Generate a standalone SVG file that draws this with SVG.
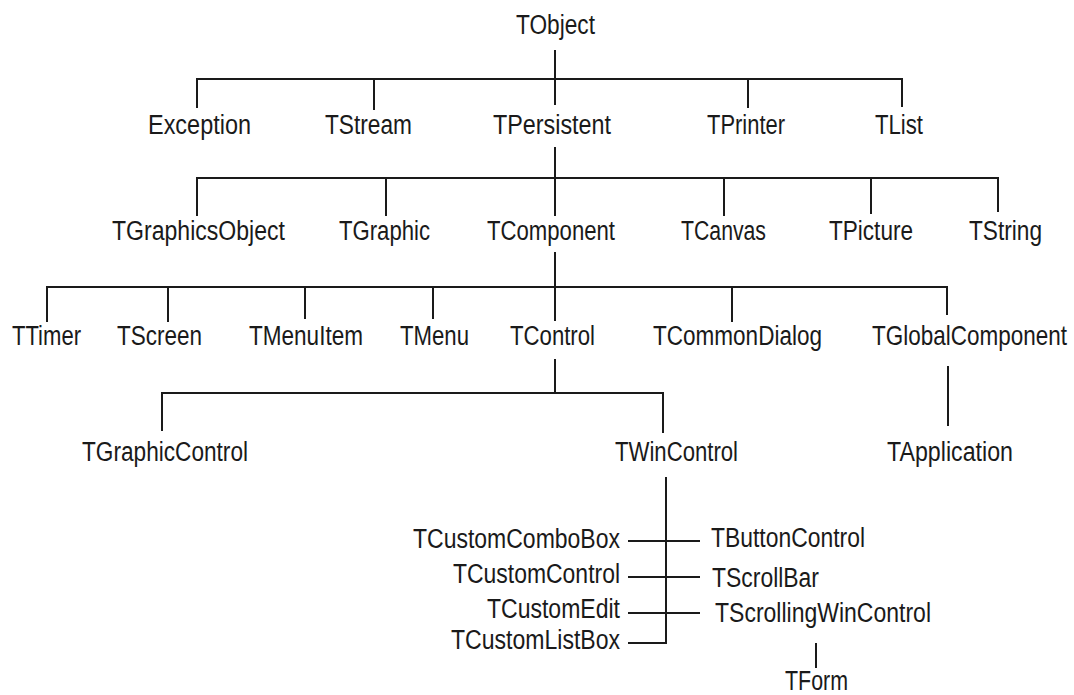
<svg xmlns="http://www.w3.org/2000/svg" width="1074" height="695" viewBox="0 0 1074 695">
<style>
text{font-family:"Liberation Sans",Arial,sans-serif;font-size:27px;fill:#1a1a1a}
.c line,.c path{stroke:#1a1a1a;stroke-width:2;fill:none}
</style>
<rect width="1074" height="695" fill="#fff"/>
<g class="c" id="connectors">
<line x1="555" y1="50" x2="555" y2="105"/>
<path d="M197 108V79H902V107"/>
<line x1="374" y1="79" x2="374" y2="110"/>
<line x1="748" y1="79" x2="748" y2="108"/>
<line x1="555" y1="147" x2="555" y2="216"/>
<path d="M197 216V178H998V212"/>
<line x1="386" y1="178" x2="386" y2="216"/>
<line x1="724" y1="178" x2="724" y2="216"/>
<line x1="871" y1="178" x2="871" y2="214"/>
<line x1="555" y1="252" x2="555" y2="321"/>
<path d="M47 322V287H947V315"/>
<line x1="168" y1="287" x2="168" y2="322"/>
<line x1="305" y1="287" x2="305" y2="319"/>
<line x1="433" y1="287" x2="433" y2="319"/>
<line x1="732" y1="287" x2="732" y2="322"/>
<line x1="555" y1="359" x2="555" y2="393"/>
<path d="M162 431V393H663V433"/>
<line x1="948" y1="366" x2="948" y2="426"/>
<path d="M666 477V643H628"/>
<line x1="628" y1="541" x2="700" y2="541"/>
<line x1="628" y1="577" x2="700" y2="577"/>
<line x1="628" y1="613" x2="700" y2="613"/>
<line x1="816" y1="643" x2="816" y2="668"/>
</g>
<g id="TObject"><text x="516" y="34" textLength="79" lengthAdjust="spacingAndGlyphs">TObject</text></g>
<g id="Exception"><text x="148" y="134" textLength="103" lengthAdjust="spacingAndGlyphs">Exception</text></g>
<g id="TStream"><text x="325" y="134" textLength="87" lengthAdjust="spacingAndGlyphs">TStream</text></g>
<g id="TPersistent"><text x="493" y="134" textLength="118" lengthAdjust="spacingAndGlyphs">TPersistent</text></g>
<g id="TPrinter"><text x="707" y="134" textLength="78" lengthAdjust="spacingAndGlyphs">TPrinter</text></g>
<g id="TList"><text x="875" y="134" textLength="48" lengthAdjust="spacingAndGlyphs">TList</text></g>
<g id="TGraphicsObject"><text x="112" y="240" textLength="173" lengthAdjust="spacingAndGlyphs">TGraphicsObject</text></g>
<g id="TGraphic"><text x="339" y="240" textLength="91" lengthAdjust="spacingAndGlyphs">TGraphic</text></g>
<g id="TComponent"><text x="487" y="240" textLength="128" lengthAdjust="spacingAndGlyphs">TComponent</text></g>
<g id="TCanvas"><text x="681" y="240" textLength="85" lengthAdjust="spacingAndGlyphs">TCanvas</text></g>
<g id="TPicture"><text x="829" y="240" textLength="84" lengthAdjust="spacingAndGlyphs">TPicture</text></g>
<g id="TString"><text x="969" y="240" textLength="73" lengthAdjust="spacingAndGlyphs">TString</text></g>
<g id="TTimer"><text x="12" y="345" textLength="69" lengthAdjust="spacingAndGlyphs">TTimer</text></g>
<g id="TScreen"><text x="117" y="345" textLength="85" lengthAdjust="spacingAndGlyphs">TScreen</text></g>
<g id="TMenuItem"><text x="249" y="345" textLength="114" lengthAdjust="spacingAndGlyphs">TMenuItem</text></g>
<g id="TMenu"><text x="400" y="345" textLength="69" lengthAdjust="spacingAndGlyphs">TMenu</text></g>
<g id="TControl"><text x="510" y="345" textLength="85" lengthAdjust="spacingAndGlyphs">TControl</text></g>
<g id="TCommonDialog"><text x="653" y="345" textLength="169" lengthAdjust="spacingAndGlyphs">TCommonDialog</text></g>
<g id="TGlobalComponent"><text transform="translate(872 345) scale(0.833 1)" x="0" y="0">TGlobalComponent</text></g>
<g id="TGraphicControl"><text x="82" y="461" textLength="166" lengthAdjust="spacingAndGlyphs">TGraphicControl</text></g>
<g id="TWinControl"><text x="615" y="461" textLength="123" lengthAdjust="spacingAndGlyphs">TWinControl</text></g>
<g id="TApplication"><text x="887" y="461" textLength="126" lengthAdjust="spacingAndGlyphs">TApplication</text></g>
<g id="TCustomComboBox"><text x="413" y="548" textLength="207" lengthAdjust="spacingAndGlyphs">TCustomComboBox</text></g>
<g id="TCustomControl"><text x="453" y="583" textLength="167" lengthAdjust="spacingAndGlyphs">TCustomControl</text></g>
<g id="TCustomEdit"><text x="487" y="618" textLength="133" lengthAdjust="spacingAndGlyphs">TCustomEdit</text></g>
<g id="TCustomListBox"><text x="451" y="649" textLength="169" lengthAdjust="spacingAndGlyphs">TCustomListBox</text></g>
<g id="TButtonControl"><text x="711" y="547" textLength="154" lengthAdjust="spacingAndGlyphs">TButtonControl</text></g>
<g id="TScrollBar"><text x="712" y="587" textLength="107" lengthAdjust="spacingAndGlyphs">TScrollBar</text></g>
<g id="TScrollingWinControl"><text x="715" y="622" textLength="216" lengthAdjust="spacingAndGlyphs">TScrollingWinControl</text></g>
<g id="TForm"><text x="785" y="690" textLength="63" lengthAdjust="spacingAndGlyphs">TForm</text></g>
</svg>
